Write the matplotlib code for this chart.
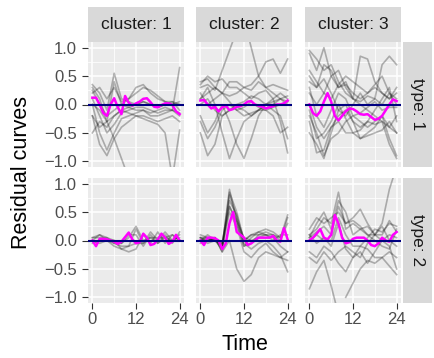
import numpy as np
import matplotlib
matplotlib.use("Agg")
import matplotlib.pyplot as plt

plt.rcParams['font.family'] = ['Liberation Sans', 'DejaVu Sans']

# time grids
time_grey = [0, 2, 4, 6, 8, 10, 12, 14, 16, 18, 20, 22, 24]
time_mean = list(range(25))

clusters = ["cluster: 1", "cluster: 2", "cluster: 3"]
types = ["type: 1", "type: 2"]
y_ticks = [-1.0, -0.5, 0.0, 0.5, 1.0]
y_tick_labels = ["\u22121.0", "\u22120.5", "0.0", "0.5", "1.0"]
x_ticks = [0, 12, 24]
x_tick_labels = ["0", "12", "24"]

nan = np.nan

# residual curves, type 1
grey_t1_c1 = [
    [0.35, 0.2, -0.1, 0.55, 0.1, 0.05, 0.0, 0.05, 0.0, -0.05, 0.0, 0.0, 0.05],
    [0.3, 0.1, -0.3, 0.4, 0.0, 0.1, 0.3, 0.35, 0.2, 0.1, 0.05, 0.05, 0.0],
    [0.0, -0.5, -0.8, -0.5, -0.25, -0.2, -0.15, -0.1, -0.2, -0.2, -0.15, -0.1, -0.2],
    [-0.2, -0.7, -0.9, -0.6, -0.4, -0.3, -0.2, -0.2, -0.25, -0.3, -0.25, -0.2, -0.3],
    [0.1, -0.2, -0.5, -0.35, -0.15, -0.1, -0.05, -0.05, -0.1, -0.15, -0.1, -0.1, -0.15],
    [0.2, 0.3, 0.1, 0.3, 0.05, 0.1, 0.2, 0.3, 0.25, 0.15, 0.05, 0.0, 0.0],
    [0.0, -0.1, -0.3, -0.6, -0.95, -1.3, nan, nan, nan, nan, nan, nan, nan],
    [0.25, 0.0, -0.2, -0.1, 0.0, -0.05, -0.1, -0.1, -0.15, -0.1, -0.05, -0.1, 0.65],
    [-0.2, -0.4, -0.3, -0.2, -0.1, -0.15, -0.2, -0.25, -0.3, -0.35, -0.5, -1.3, -0.45],
    [-0.5, -0.3, -0.4, -0.2, -0.1, -0.05, 0.0, 0.05, 0.0, -0.05, 0.0, 0.05, -0.1],
]
grey_t1_c2 = [
    [0.3, 0.35, 0.25, 0.6, 0.95, 1.3, 1.5, 1.0, 0.5, 0.3, 0.35, 0.3, 0.25],
    [0.1, 0.2, 0.3, 0.2, 0.15, 0.2, 0.3, 0.35, 0.5, 0.75, 0.8, 0.55, 0.8],
    [0.1, 0.3, 0.0, -0.5, -0.95, -0.6, -0.3, -0.2, -0.1, 0.0, 0.05, 0.1, 0.0],
    [-0.2, -0.5, -0.3, 0.0, -0.3, -0.7, -0.95, -0.6, -0.2, 0.0, 0.1, 0.2, 0.1],
    [0.35, 0.5, 0.4, 0.45, 0.3, 0.3, 0.2, 0.1, 0.2, 0.25, 0.1, -0.3, -0.85],
    [0.4, 0.45, 0.3, 0.2, 0.4, 0.4, 0.3, 0.25, 0.4, 0.3, 0.2, 0.1, 0.15],
    [-0.3, -0.6, -0.4, -0.1, 0.0, -0.1, -0.2, -0.15, -0.1, -0.1, -0.2, -0.5, -0.4],
    [-0.5, -0.9, -0.7, -0.2, -0.1, -0.05, -0.1, -0.2, -0.1, 0.0, 0.0, 0.1, 0.05],
    [0.2, 0.0, 0.1, 0.2, 0.05, -0.1, -0.05, 0.05, -0.05, -0.1, -0.05, 0.0, 0.05],
    [0.0, 0.1, -0.1, -0.2, -0.1, 0.0, 0.05, 0.15, 0.1, 0.0, -0.1, -0.2, -0.6],
]
grey_t1_c3 = [
    [0.95, 0.8, 0.6, 0.7, 0.4, 0.2, 0.1, 0.0, -0.1, -0.2, -0.3, -0.4, -0.5],
    [0.9, 0.6, 1.0, 0.5, 0.3, 0.35, 0.2, 0.1, 0.2, 0.3, 0.2, 0.1, 0.2],
    [0.5, 0.3, 0.7, 0.6, 0.3, 0.4, 0.1, 0.05, 0.15, 0.1, 0.0, 0.2, 0.1],
    [-0.3, -0.85, -0.8, -0.4, -0.3, -0.5, -0.5, -0.6, -0.55, -0.5, -0.45, -0.3, -0.5],
    [-0.2, -0.5, -0.9, -0.6, -0.5, -0.3, -0.2, -0.3, -0.4, -0.3, -0.2, -0.4, -0.2],
    [0.2, 0.0, 0.2, 0.5, 0.6, 0.3, 0.1, 0.85, 0.8, 0.4, 0.2, 0.1, 0.3],
    [0.4, 0.3, 0.45, 0.2, -0.1, -0.2, 0.0, 0.2, 0.0, 0.1, 0.7, 0.85, 0.7],
    [-0.5, -0.7, -0.95, -0.5, -0.1, 0.0, -0.3, -0.4, -0.3, -0.1, 0.1, 0.3, -0.3],
    [0.0, -0.4, -0.6, -0.4, -0.2, -0.1, -0.3, -0.6, -0.5, -0.4, -0.2, -0.6, -0.9],
    [0.6, 0.4, 0.2, 0.1, 0.35, 0.5, 0.4, 0.3, 0.2, 0.35, 0.5, 0.2, 0.0],
    [0.3, -0.2, -0.4, -0.1, 0.2, 0.1, -0.2, -0.15, -0.05, 0.05, -0.1, -0.05, -0.05],
    [-0.1, -0.6, -0.5, -0.3, 0.0, -0.25, -0.5, -0.45, -0.3, -0.35, -0.3, -0.7, -0.95],
]

# residual curves, type 2
grey_t2_c1 = [
    [0.05, 0.1, 0.05, 0.0, -0.15, -0.2, -0.15, 0.1, -0.05, 0.15, -0.05, 0.1, 0.0],
    [0.05, 0.05, 0.05, -0.05, -0.1, -0.1, 0.2, -0.05, 0.15, 0.0, 0.15, 0.0, 0.05],
    [0.0, 0.1, 0.0, -0.05, -0.05, 0.1, 0.1, -0.1, 0.1, -0.05, 0.1, -0.05, 0.15],
    [-0.05, 0.0, 0.0, 0.0, -0.05, 0.05, 0.25, 0.0, 0.05, 0.05, 0.05, 0.1, 0.0],
    [0.0, -0.05, 0.0, -0.1, -0.15, -0.1, -0.05, -0.05, 0.05, -0.05, 0.05, 0.0, 0.1],
]
grey_t2_c2 = [
    [0.05, 0.0, 0.05, -0.1, 0.9, 0.35, -0.1, 0.05, 0.15, 0.1, 0.1, 0.05, 0.3],
    [0.0, 0.1, 0.0, -0.05, 0.7, 0.45, 0.0, 0.1, 0.1, 0.15, 0.1, 0.0, 0.4],
    [0.1, 0.05, 0.0, -0.1, 0.6, 0.3, -0.1, -0.05, 0.1, 0.1, 0.05, -0.1, -0.2],
    [-0.05, 0.0, 0.05, -0.2, 0.0, -0.5, -0.72, -0.6, -0.3, -0.2, -0.25, -0.3, -0.2],
    [0.0, 0.05, 0.05, -0.2, 0.8, 0.4, -0.05, -0.15, -0.05, 0.0, -0.1, -0.25, -0.55],
    [0.05, -0.05, 0.0, -0.15, 0.5, 0.25, -0.2, -0.3, -0.15, -0.05, -0.2, -0.3, -0.35],
    [0.0, 0.0, 0.05, -0.1, 0.85, 0.5, 0.0, 0.1, 0.15, 0.2, 0.15, 0.05, 0.45],
    [0.05, 0.05, 0.0, -0.05, 0.6, 0.35, 0.05, 0.0, 0.05, 0.1, 0.0, 0.1, 0.1],
]
grey_t2_c3 = [
    [0.1, 0.2, 0.4, 0.3, 0.85, 0.2, 0.3, 0.2, 0.1, 0.0, -0.1, -0.15, 0.2],
    [0.05, 0.3, 0.5, 0.2, 0.7, 0.5, 0.1, 0.2, 0.25, 0.1, 0.3, 0.9, 1.3],
    [-0.85, -0.55, -0.35, -0.8, -1.3, nan, nan, nan, nan, nan, nan, nan, nan],
    [nan, nan, nan, nan, nan, -1.0, -0.75, -0.5, -0.35, -0.4, -0.3, -0.45, -0.6],
    [0.2, 0.4, 0.3, 0.4, 0.5, 0.3, 0.4, 0.55, 0.3, 0.1, 0.0, 0.1, 0.05],
    [-0.2, -0.3, -0.1, -0.2, -0.4, -0.55, -0.3, -0.2, -0.4, -0.2, 0.0, -0.1, -0.5],
    [0.0, 0.1, 0.0, 0.0, 0.4, 0.1, -0.1, -0.1, 0.05, 0.2, 0.15, 0.3, 0.25],
    [0.1, -0.05, 0.05, -0.1, 0.3, -0.15, -0.3, -0.1, -0.15, -0.3, -0.3, -0.2, -0.3],
    [-0.3, -0.4, -0.2, -0.35, -0.2, -0.1, -0.2, -0.3, -0.05, 0.1, 0.25, 0.0, -0.1],
    [0.05, 0.15, 0.25, 0.1, 0.6, 0.3, 0.35, 0.25, 0.1, 0.1, 0.1, 0.35, 0.15],
]

# mean residual curves (magenta)
mean_t1_c1 = [0.12, 0.12, 0.0, -0.15, -0.2, 0.0, 0.11, -0.05, -0.17, 0.15, 0.03, -0.02,
              0.02, 0.05, 0.1, 0.11, 0.04, -0.04, -0.05, -0.01, 0.02, 0.02, -0.01, -0.12, -0.17]
mean_t1_c2 = [0.07, 0.08, 0.0, -0.07, -0.04, -0.12, -0.05, -0.02, -0.1, -0.08, -0.04, -0.03,
              0.0, 0.05, 0.06, 0.0, -0.02, -0.04, -0.07, -0.05, -0.03, 0.0, 0.0, 0.02, 0.07]
mean_t1_c3 = [0.0, -0.15, -0.2, -0.12, 0.05, 0.2, 0.05, -0.2, -0.28, -0.2, -0.12, -0.07,
              -0.08, -0.12, -0.17, -0.18, -0.17, -0.22, -0.27, -0.25, -0.2, -0.1, 0.0, 0.09, 0.06]
mean_t2_c1 = [0.0, -0.1, 0.03, 0.03, 0.02, 0.0, -0.02, -0.06, -0.02, 0.06, 0.14, 0.02,
              -0.05, -0.03, 0.12, 0.05, -0.08, -0.06, 0.02, 0.12, 0.05, -0.06, -0.02, 0.1, 0.0]
mean_t2_c2 = [0.0, -0.08, 0.05, 0.05, 0.04, 0.0, -0.15, -0.05, 0.3, 0.5, 0.15, 0.1,
              0.05, -0.08, -0.05, 0.0, 0.05, 0.05, 0.05, 0.05, 0.08, 0.0, -0.02, 0.22, 0.02]
mean_t2_c3 = [0.0, 0.05, 0.12, 0.2, 0.05, 0.02, 0.1, 0.45, 0.3, 0.05, -0.05, -0.03,
              0.03, 0.05, 0.05, 0.05, 0.0, -0.08, -0.1, -0.05, 0.05, 0.0, -0.02, 0.1, 0.15]

grey_sets = [[grey_t1_c1, grey_t1_c2, grey_t1_c3], [grey_t2_c1, grey_t2_c2, grey_t2_c3]]
mean_sets = [[mean_t1_c1, mean_t1_c2, mean_t1_c3], [mean_t2_c1, mean_t2_c2, mean_t2_c3]]

W, H = 435, 358
fig = plt.figure(figsize=(W / 100, H / 100), dpi=100)

col_left = [88, 196, 305]
panel_w = 96
row_top = [42, 178]
panel_h = 125


def px_box(x0, y0, w, h):
    return [x0 / W, 1 - (y0 + h) / H, w / W, h / H]


for r in range(2):
    for c in range(3):
        ax = fig.add_axes(px_box(col_left[c], row_top[r], panel_w, panel_h))
        ax.set_facecolor("#EBEBEB")
        for s in ax.spines.values():
            s.set_visible(False)
        ax.set_xlim(-1.2, 25.2)
        ax.set_ylim(-1.1, 1.1)
        ax.set_xticks(x_ticks)
        ax.set_xticks([6, 18], minor=True)
        ax.set_yticks(y_ticks)
        ax.set_yticks([-0.75, -0.25, 0.25, 0.75], minor=True)
        ax.grid(True, which="major", color="white", lw=1.1)
        ax.grid(True, which="minor", color="white", lw=0.55)
        ax.set_axisbelow(True)
        ax.tick_params(which="minor", length=0)
        ax.tick_params(which="major", length=4, width=0.8, color="#333333",
                       labelcolor="#4D4D4D", labelsize=12)
        ax.tick_params(axis="y", pad=4)
        ax.tick_params(axis="x", pad=2.5)
        if c == 0:
            ax.set_yticklabels(y_tick_labels)
        else:
            ax.tick_params(axis="y", which="major", length=0, labelleft=False)
        if r == 1:
            ax.set_xticklabels(x_tick_labels)
        else:
            ax.tick_params(axis="x", which="major", length=0, labelbottom=False)

        for curve in grey_sets[r][c]:
            ax.plot(time_grey, curve, color="black", alpha=0.28, lw=1.2)
        ax.plot(time_mean, mean_sets[r][c], color="#FF00FF", lw=1.8)
        ax.axhline(0, color="#000080", lw=1.5)

# top strips
for c in range(3):
    sx = fig.add_axes(px_box(col_left[c], 7, panel_w, 35))
    sx.set_facecolor("#D9D9D9")
    sx.set_xticks([])
    sx.set_yticks([])
    for s in sx.spines.values():
        s.set_visible(False)
    sx.text(0.5, 0.5, clusters[c], ha="center", va="center", fontsize=12.5,
            color="#1A1A1A", transform=sx.transAxes)

# right strips
for r in range(2):
    sx = fig.add_axes(px_box(403, row_top[r], 29, panel_h))
    sx.set_facecolor("#D9D9D9")
    sx.set_xticks([])
    sx.set_yticks([])
    for s in sx.spines.values():
        s.set_visible(False)
    sx.text(0.5, 0.5, types[r], ha="center", va="center", fontsize=12.5,
            color="#1A1A1A", rotation=-90, transform=sx.transAxes)

fig.text(22 / W, 1 - 172 / H, "Residual curves", rotation=90, ha="center",
         va="center", fontsize=15.5)
fig.text(245 / W, 1 - 345 / H, "Time", ha="center", va="center", fontsize=15.5)

fig.savefig("out.png", dpi=100)
